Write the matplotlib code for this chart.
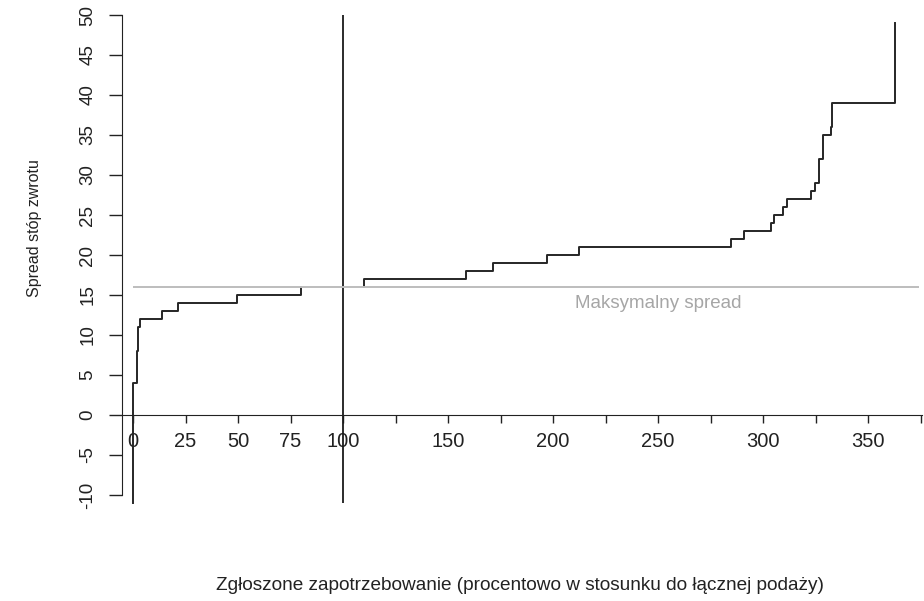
import matplotlib
matplotlib.use("Agg")
import matplotlib.pyplot as plt

plt.rcParams['font.family'] = ['Liberation Sans', 'DejaVu Sans']

# Step curve, part below 100% (x = demand %, y = spread)
x_low = [0, 0, 1.9, 2.5, 3.3, 14, 21.6, 49.4, 80]
y_low = [-11, 4, 8, 11, 12, 13, 14, 15, 16]

# Step curve, part above 100%
x_high = [110, 110, 158.6, 171.6, 197.3, 212.4, 284.8, 291, 303.8, 305.2,
          309.4, 311.3, 322.7, 324.8, 326.8, 328.7, 332.2, 333, 362.8]
y_high = [16, 17, 18, 19, 20, 21, 22, 23, 24, 25,
          26, 27, 28, 29, 32, 35, 36, 39, 49]

max_spread = 16
supply_line = 100

x_ticks = [0, 25, 50, 75, 100, 125, 150, 175, 200, 225, 250, 275, 300, 325, 350, 375]
x_tick_labels = ['0', '25', '50', '75', '100', '', '150', '', '200', '', '250', '',
                 '300', '', '350', '']
y_ticks = [-10, -5, 0, 5, 10, 15, 20, 25, 30, 35, 40, 45, 50]

W, H = 924, 601
fig = plt.figure(figsize=(W / 100, H / 100), dpi=100)
ax = fig.add_axes([122 / W, 1 - 505 / H, (922 - 122) / W, (505 - 15) / H])
ax.set_xlim(-5.24, 375.7)
ax.set_ylim(-11.25, 50)

line_col = '#262626'
ax.plot(x_low, y_low, drawstyle='steps-post', color=line_col, lw=1.4)
ax.plot(x_high, y_high, drawstyle='steps-post', color=line_col, lw=1.4)
ax.vlines(supply_line, -11, 50, color='#1a1a1a', lw=1.3)
ax.hlines(max_spread, 0, 374.5, color='#bdbdbd', lw=1.4)
ax.text(250, 14, 'Maksymalny spread', color='#a6a6a6', fontsize=13.5,
        ha='center', va='center')

for s in ['top', 'right']:
    ax.spines[s].set_visible(False)
ax.spines['bottom'].set_position(('data', 0))
ax.spines['left'].set_bounds(-10, 50)
ax.spines['left'].set_color('#222222')
ax.spines['bottom'].set_color('#222222')

ax.set_xticks(x_ticks)
ax.set_xticklabels(x_tick_labels, fontsize=14.5, color='#222222')
ax.tick_params(axis='x', length=6, width=1, direction='out', pad=6.5, color='#222222')
ax.set_yticks(y_ticks)
ax.set_yticklabels([str(v) for v in y_ticks], fontsize=13.5, rotation=90,
                   va='center', color='#222222')
ax.tick_params(axis='y', length=9.5, width=1, direction='out', pad=9, color='#222222')

fig.text(520 / W, 1 - 585 / H,
         'Zgłoszone zapotrzebowanie (procentowo w stosunku do łącznej podaży)',
         ha='center', va='center', fontsize=13.7, color='#222222')
fig.text(35 / W, 1 - 228 / H, 'Spread stóp zwrotu', rotation=90,
         ha='center', va='center', fontsize=11.5, color='#222222')

fig.savefig('out.png', dpi=100)
